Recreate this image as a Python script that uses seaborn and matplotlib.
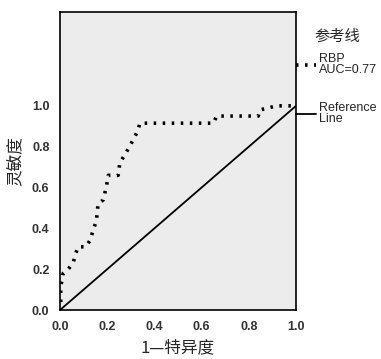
import pandas as pd
import matplotlib
matplotlib.use('Agg')
import matplotlib.pyplot as plt
import seaborn as sns

# ROC curve
fpr = [0.0, 0.004, 0.004, 0.014, 0.035, 0.056, 0.068, 0.078, 0.11, 0.127, 0.141,
       0.155, 0.162, 0.184, 0.198, 0.205, 0.247, 0.254, 0.29, 0.318, 0.332, 0.339,
       0.65, 0.664, 0.84, 0.847, 0.918, 1.0]
tpr = [0.0, 0.0, 0.115, 0.18, 0.2, 0.23, 0.28, 0.31, 0.31, 0.34, 0.39,
       0.44, 0.52, 0.54, 0.61, 0.66, 0.66, 0.72, 0.79, 0.85, 0.885, 0.915,
       0.915, 0.95, 0.95, 0.98, 1.0, 1.0]
ref_x = [0.0, 1.0]
ref_y = [0.0, 1.0]
ticks = [0.0, 0.2, 0.4, 0.6, 0.8, 1.0]
tick_labels = ['0.0', '0.2', '0.4', '0.6', '0.8', '1.0']

roc = pd.DataFrame({'fpr': fpr, 'tpr': tpr})
ref = pd.DataFrame({'x': ref_x, 'y': ref_y})

sns.set_style('white')
plt.rcParams['font.family'] = ['Liberation Sans', 'Noto Sans CJK SC', 'DejaVu Sans']
cjk = ['Noto Sans CJK SC', 'DejaVu Sans']

fig = plt.figure(figsize=(3.81, 3.59), dpi=100)
ax = fig.add_axes([0.157, 0.136, 0.62, 0.831])
ax.set_facecolor('#ececec')

sns.lineplot(data=roc, x='fpr', y='tpr', ax=ax, color='black', linewidth=2.6,
             linestyle=(0, (0.7, 1.8)), label='RBP\nAUC=0.77', sort=False,
             estimator=None)
sns.lineplot(data=ref, x='x', y='y', ax=ax, color='black', linewidth=1.3,
             label='Reference\nLine', estimator=None)

ax.set_xlim(0, 1.0)
ax.set_ylim(0, 1.46)
ax.set_xticks(ticks)
ax.set_xticklabels(tick_labels)
ax.set_yticks(ticks)
ax.set_yticklabels(tick_labels)
ax.tick_params(axis='both', direction='out', length=4, width=1, colors='black',
               labelsize=9, labelcolor='#333333')
for lab in ax.get_xticklabels() + ax.get_yticklabels():
    lab.set_fontweight('bold')
for s in ax.spines.values():
    s.set_color('black')
    s.set_linewidth(1.2)

ax.set_xlabel('1—特异度', fontsize=12, family=cjk, labelpad=5)
ax.set_ylabel('灵敏度', fontsize=12, family=cjk, labelpad=6)

leg = ax.legend(loc='upper left', bbox_to_anchor=(1.0, 0.862),
                frameon=False, fontsize=9, handlelength=1.6, handletextpad=0.2,
                labelspacing=2.1, borderaxespad=0.0, borderpad=0.0)
for t in leg.get_texts():
    t.set_multialignment('left')
    t.set_linespacing(0.9)

# legend title
fig.text(0.885, 0.90, '参考线', fontsize=11, family=cjk, ha='center', va='center')

fig.savefig('out.png', dpi=100)
